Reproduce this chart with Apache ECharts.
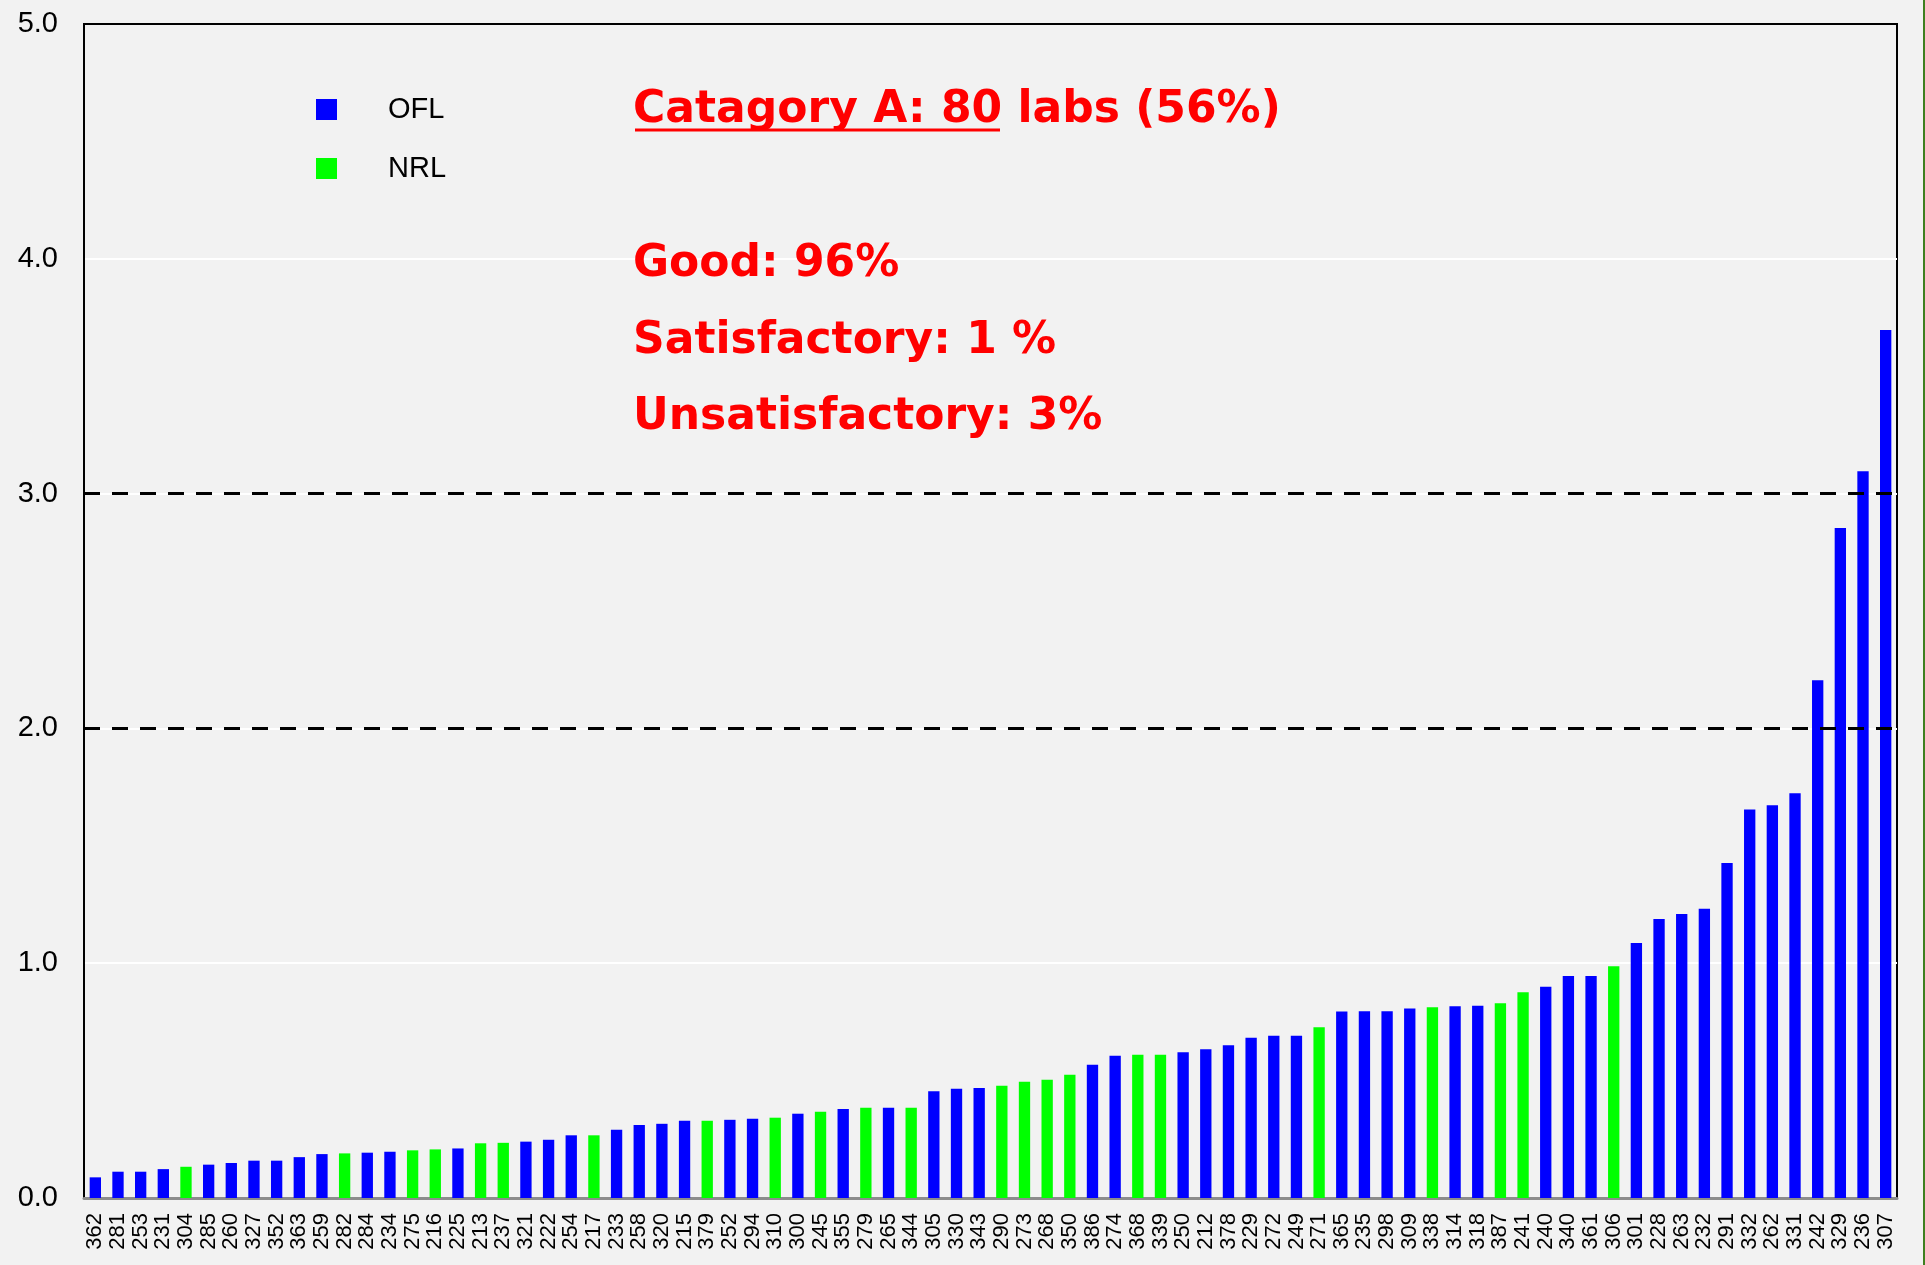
<!DOCTYPE html>
<html>
<head>
<meta charset="utf-8">
<script src="https://cdn.jsdelivr.net/npm/echarts@6/dist/echarts.min.js"></script>
<style>
  html, body { margin: 0; padding: 0; background: #f2f2f2; }
  #main { width: 1925px; height: 1265px; }
</style>
</head>
<body>
<div id="main"></div>
<script>
// lab codes, sorted by score
const labs = ["362","281","253","231","304","285","260","327","352","363","259","282","284","234","275","216","225","213","237","321",
  "222","254","217","233","258","320","215","379","252","294","310","300","245","355","279","265","344","305","330","343",
  "290","273","268","350","386","274","368","339","250","212","378","229","272","249","271","365","235","298","309","338",
  "314","318","387","241","240","340","361","306","301","228","263","232","291","332","262","331","242","329","236","307"];

const scores = [0.088,0.112,0.112,0.123,0.133,0.142,0.149,0.159,0.159,0.174,0.187,0.190,0.193,0.197,0.203,0.207,0.211,0.233,0.235,0.240,
  0.248,0.267,0.267,0.291,0.311,0.316,0.329,0.329,0.333,0.338,0.342,0.359,0.367,0.379,0.384,0.384,0.384,0.455,0.465,0.468,
  0.478,0.495,0.504,0.525,0.567,0.606,0.610,0.610,0.621,0.634,0.651,0.683,0.691,0.691,0.727,0.794,0.795,0.795,0.807,0.812,
  0.817,0.819,0.829,0.876,0.900,0.946,0.946,0.987,1.086,1.188,1.210,1.232,1.427,1.655,1.673,1.724,2.205,2.853,3.095,3.697];

// O = OFL, N = NRL
const network = ["O","O","O","O","N","O","O","O","O","O","O","N","O","O","N","N","O","N","N","O",
  "O","O","N","O","O","O","O","N","O","O","N","O","N","O","N","O","N","O","O","O",
  "N","N","N","N","O","O","N","N","O","O","O","O","O","O","N","O","O","O","O","N",
  "O","O","N","N","O","O","O","N","O","O","O","O","O","O","O","O","O","O","O","O"];

const limits = [2.0, 3.0];

const oflData = scores.map((v, i) => network[i] === "O" ? v : "-");
const nrlData = scores.map((v, i) => network[i] === "N" ? v : "-");

const chart = echarts.init(document.getElementById("main"));

const redFont = "bold 44px 'DejaVu Sans'";

const option = {
  backgroundColor: "#f2f2f2",
  animation: false,
  textStyle: { fontFamily: "Liberation Sans" },
  grid: {
    left: 84, right: 28, top: 24, bottom: 67,
    show: true, borderColor: "#000", borderWidth: 2, backgroundColor: "transparent"
  },
  legend: {
    orient: "vertical",
    left: 316,
    top: 95,
    padding: 0,
    itemWidth: 21,
    itemHeight: 21,
    itemGap: 30,
    icon: "rect",
    data: ["OFL", "NRL"],
    textStyle: { fontSize: 29, color: "#000", fontFamily: "Liberation Sans", padding: [0, 0, 0, 46] }
  },
  xAxis: {
    type: "category",
    data: labs,
    axisLine: { lineStyle: { color: "#8c8c8c", width: 3 } },
    axisTick: { show: false },
    axisLabel: { interval: 0, rotate: 90, fontSize: 22, color: "#000", margin: 15 }
  },
  yAxis: {
    type: "value",
    min: 0, max: 5, interval: 1,
    axisLine: { show: true, lineStyle: { color: "#000", width: 2 } },
    axisTick: { show: false },
    splitLine: { showMaxLine: false, showMinLine: false, lineStyle: { color: "#fff", width: 2 } },
    axisLabel: { fontSize: 29, color: "#000", margin: 26, formatter: v => v.toFixed(1) }
  },
  series: [
    {
      name: "OFL", type: "bar", stack: "lab", barWidth: "50%",
      itemStyle: { color: "#0000ff" },
      data: oflData
    },
    {
      name: "NRL", type: "bar", stack: "lab", barWidth: "50%",
      itemStyle: { color: "#00ff00" },
      data: nrlData,
      markLine: {
        silent: true,
        symbol: "none",
        label: { show: false },
        lineStyle: { color: "#000", width: 3, type: [16, 12] },
        data: limits.map(v => ({ yAxis: v }))
      }
    }
  ],
  graphic: [
    { type: "text", z: 100, x: 633, y: 111, style: { text: "Catagory A: 80 labs (56%)", font: redFont, fill: "#ff0000", textVerticalAlign: "middle" } },
    { type: "line", z: 100, shape: { x1: 635, y1: 130, x2: 1000, y2: 130 }, style: { stroke: "#ff0000", lineWidth: 3 } },
    { type: "text", z: 100, x: 633, y: 265, style: { text: "Good: 96%", font: redFont, fill: "#ff0000", textVerticalAlign: "middle" } },
    { type: "text", z: 100, x: 633, y: 342, style: { text: "Satisfactory: 1 %", font: redFont, fill: "#ff0000", textVerticalAlign: "middle" } },
    { type: "text", z: 100, x: 633, y: 418, style: { text: "Unsatisfactory: 3%", font: redFont, fill: "#ff0000", textVerticalAlign: "middle" } },
    { type: "rect", z: 100, shape: { x: 1923, y: 0, width: 2, height: 1265 }, style: { fill: "#3f7f1f" } }
  ]
};

chart.setOption(option);
</script>
</body>
</html>
